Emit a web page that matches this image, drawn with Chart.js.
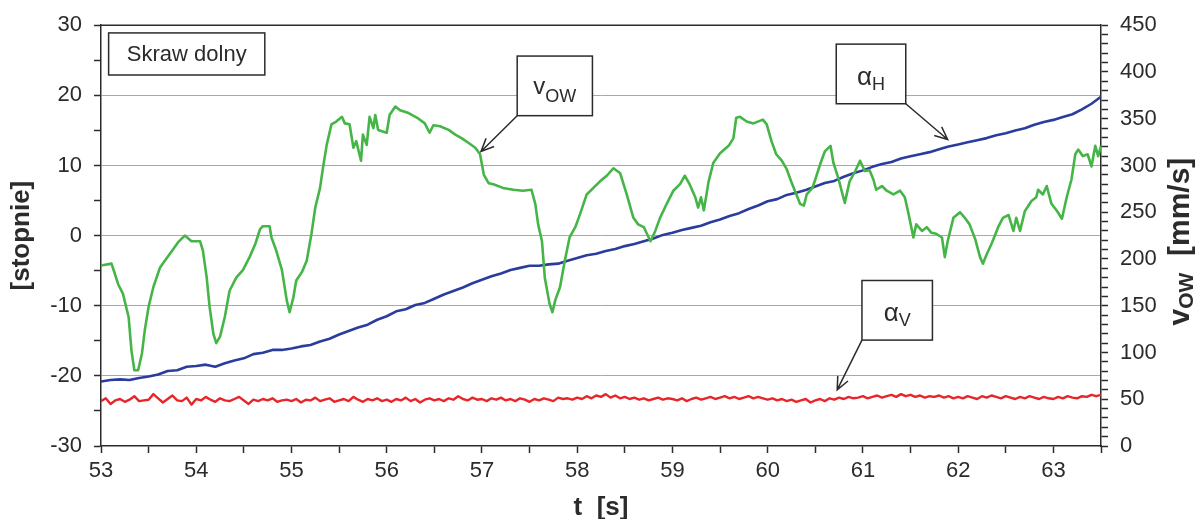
<!DOCTYPE html>
<html>
<head>
<meta charset="utf-8">
<script src="https://cdn.jsdelivr.net/npm/chart.js@4.4.1/dist/chart.umd.min.js"></script>
<style>
  html, body { margin: 0; padding: 0; background: #fff; }
  canvas { display: block; }
</style>
</head>
<body>
<canvas id="chart" width="1195" height="519"></canvas>
<script>
// axis tick labels
const timeTicks = [53, 54, 55, 56, 57, 58, 59, 60, 61, 62, 63];
const angleTicks = [-30, -20, -10, 0, 10, 20, 30];
const speedTicks = [0, 50, 100, 150, 200, 250, 300, 350, 400, 450];

// v_OW [mm/s] (right axis)
const vowTime = [
  53.00, 53.11, 53.13, 53.18, 53.23, 53.29, 53.32, 53.35, 53.39, 53.43, 53.46, 53.50, 53.55, 53.62, 53.67, 53.72,
  53.81, 53.88, 53.95, 54.04, 54.07, 54.11, 54.14, 54.18, 54.21, 54.25, 54.30, 54.35, 54.42, 54.49, 54.56, 54.62,
  54.67, 54.70, 54.77, 54.79, 54.84, 54.90, 54.95, 54.98, 55.02, 55.05, 55.11, 55.16, 55.21, 55.25, 55.30, 55.33,
  55.37, 55.42, 55.47, 55.53, 55.56, 55.61, 55.65, 55.68, 55.73, 55.75, 55.79, 55.82, 55.86, 55.88, 55.91, 56.00,
  56.03, 56.09, 56.14, 56.23, 56.32, 56.40, 56.45, 56.49, 56.56, 56.65, 56.72, 56.79, 56.86, 56.93, 56.98, 57.02,
  57.07, 57.12, 57.22, 57.33, 57.43, 57.52, 57.56, 57.59, 57.63, 57.66, 57.71, 57.74, 57.77, 57.82, 57.87, 57.92,
  57.98, 58.03, 58.10, 58.17, 58.24, 58.31, 58.38, 58.45, 58.52, 58.59, 58.64, 58.70, 58.77, 58.82, 58.87, 58.94,
  59.01, 59.08, 59.13, 59.18, 59.24, 59.27, 59.30, 59.33, 59.38, 59.43, 59.50, 59.59, 59.64, 59.67, 59.71, 59.78,
  59.85, 59.95, 59.99, 60.04, 60.09, 60.15, 60.20, 60.25, 60.29, 60.34, 60.38, 60.41, 60.47, 60.50, 60.55, 60.60,
  60.66, 60.69, 60.74, 60.81, 60.86, 60.92, 60.97, 61.02, 61.07, 61.11, 61.14, 61.20, 61.25, 61.32, 61.39, 61.44,
  61.48, 61.53, 61.56, 61.62, 61.67, 61.72, 61.77, 61.83, 61.86, 61.89, 61.95, 62.02, 62.07, 62.12, 62.18, 62.23,
  62.26, 62.30, 62.35, 62.42, 62.47, 62.53, 62.58, 62.61, 62.65, 62.70, 62.77, 62.82, 62.84, 62.89, 62.93, 62.98,
  63.04, 63.09, 63.14, 63.19, 63.23, 63.26, 63.31, 63.36, 63.40, 63.44, 63.47, 63.50
];
const vowSpeed = [
  193, 195, 189, 173, 163, 138, 102, 81, 81, 99, 124, 149, 170, 191, 198, 205,
  218, 225, 219, 219, 209, 180, 149, 120, 110, 117, 138, 166, 180, 188, 202, 216,
  232, 235, 235, 223, 209, 188, 156, 143, 159, 177, 186, 198, 227, 255, 276, 297,
  322, 344, 347, 352, 345, 344, 319, 326, 305, 333, 322, 352, 340, 354, 338, 335,
  354, 363, 359, 356, 351, 345, 335, 343, 342, 338, 333, 329, 324, 319, 312, 290,
  281, 280, 276, 274, 273, 274, 259, 237, 219, 180, 152, 143, 156, 170, 198, 223,
  234, 248, 269, 276, 283, 289, 297, 292, 269, 244, 237, 234, 219, 230, 244, 259,
  273, 280, 289, 280, 266, 255, 266, 252, 283, 303, 313, 321, 329, 351, 352, 347,
  345, 349, 344, 326, 312, 305, 296, 282, 272, 259, 257, 269, 276, 285, 301, 315,
  321, 303, 287, 260, 283, 294, 305, 294, 295, 285, 274, 278, 273, 269, 273, 266,
  248, 223, 237, 230, 234, 228, 227, 223, 202, 219, 244, 250, 244, 237, 221, 202,
  195, 205, 216, 234, 244, 247, 230, 244, 230, 251, 262, 266, 274, 269, 278, 259,
  251, 243, 266, 285, 312, 317, 310, 312, 299, 321, 310, 321
];

// alpha_H and alpha_V [degrees], sampled every 0.1 s / 0.05 s from 53 s
const alphaHStep = 0.1;
const alphaH = [
  -20.8, -20.6, -20.5, -20.6, -20.3, -20.1, -19.8, -19.3, -19.2, -18.7,
  -18.6, -18.4, -18.7, -18.2, -17.8, -17.5, -16.9, -16.7, -16.3, -16.3,
  -16.1, -15.8, -15.6, -15.1, -14.7, -14.1, -13.6, -13.1, -12.7, -12.0,
  -11.5, -10.8, -10.5, -9.9, -9.6, -9.0, -8.4, -7.9, -7.4, -6.8,
  -6.3, -5.8, -5.4, -4.9, -4.6, -4.3, -4.3, -4.1, -4.0, -3.6,
  -3.2, -2.8, -2.6, -2.2, -1.9, -1.5, -1.2, -0.8, -0.4, 0.1,
  0.4, 0.8, 1.1, 1.4, 1.9, 2.3, 2.8, 3.2, 3.8, 4.3,
  4.9, 5.2, 5.8, 6.1, 6.5, 7.0, 7.5, 7.8, 8.4, 8.9,
  9.3, 9.8, 10.2, 10.5, 11.0, 11.3, 11.6, 11.9, 12.3, 12.7,
  13.0, 13.3, 13.6, 13.9, 14.3, 14.6, 15.0, 15.3, 15.8, 16.2,
  16.5, 16.9, 17.3, 18.0, 18.8, 19.8
];
const alphaVStep = 0.05;
const alphaV = [
  -23.6, -23.2, -24.0, -23.5, -23.3, -23.7, -23.4, -22.9, -23.6, -23.5, -23.4, -22.6, -23.2, -23.8, -23.3, -22.8, -23.5, -23.6, -23.1, -24.1,
  -23.3, -23.5, -23.0, -23.4, -23.7, -23.2, -23.5, -23.6, -23.3, -23.0, -23.5, -24.0, -23.4, -23.6, -23.3, -23.5, -23.2, -23.7, -23.5, -23.4,
  -23.6, -23.3, -23.8, -23.4, -23.5, -23.1, -23.6, -23.4, -23.2, -23.7, -23.5, -23.3, -23.6, -23.0, -23.4, -23.7, -23.3, -23.5, -23.2, -23.6,
  -23.4, -23.7, -23.3, -23.5, -23.1, -23.6, -23.3, -23.8, -23.4, -23.2, -23.5, -23.3, -23.6, -23.2, -23.4, -22.9, -23.3, -23.5, -23.1, -23.4,
  -23.3, -23.6, -23.2, -23.4, -23.1, -23.5, -23.3, -23.6, -23.2, -23.4, -23.7, -23.3, -23.5, -23.2, -23.4, -23.6, -23.1, -23.3, -23.2, -23.4,
  -23.1, -23.3, -22.9, -23.2, -22.8, -23.0, -22.6, -23.1, -22.8, -23.2, -23.0, -23.3, -23.1, -23.4, -23.2, -23.5, -23.3, -23.1, -23.4, -23.2,
  -23.3, -23.5, -23.2, -23.6, -23.3, -23.1, -23.4, -23.2, -23.0, -23.3, -23.1, -22.9, -23.2, -23.0, -23.3, -23.1, -22.9, -23.2, -23.0, -23.2,
  -23.4, -23.2, -23.5, -23.3, -23.6, -23.4, -23.7, -23.5, -23.3, -23.8, -23.5, -23.3, -23.6, -23.2, -23.4, -23.1, -23.3, -23.0, -23.2, -23.1,
  -22.9, -23.2, -23.0, -22.8, -23.1, -22.9, -22.7, -23.0, -22.6, -22.9, -22.7, -23.0, -22.8, -23.1, -22.9, -23.0, -22.8, -23.1, -22.9, -23.2,
  -23.0, -23.2, -22.9, -23.1, -23.3, -22.9, -23.1, -22.8, -23.0, -23.2, -22.9, -23.1, -23.3, -23.0, -23.2, -22.9, -23.1, -23.3, -23.0, -23.2,
  -23.3, -23.0, -23.2, -22.9, -23.1, -23.2, -22.9, -23.0, -22.7, -22.9, -22.7
];

const FONT = "'Liberation Sans', Arial, sans-serif";
const INK = '#2b2b2b';

const toPoints = (xs, ys) => ys.map((y, i) => ({ x: xs[i], y: y }));
const sampled = (start, step, ys) => ys.map((y, i) => ({ x: +(start + i * step).toFixed(3), y: y }));

// labelled boxes with arrows, placed in t / left-axis units
const callouts = [
  { main: 'v', sub: 'OW', box: [57.37, 25.6, 58.16, 17.1], from: 'bl', tip: [56.99, 12.0], rise: 8 },
  { main: 'α', sub: 'H', box: [60.72, 27.3, 61.45, 18.8], from: 'br', tip: [61.89, 13.7], rise: 11 },
  { main: 'α', sub: 'V', box: [60.99, -6.4, 61.73, -14.9], from: 'bl', tip: [60.73, -22.0], rise: 11 },
];

const decorations = {
  id: 'decorations',
  afterDraw(chart) {
    const { ctx, chartArea: a, scales } = chart;
    const sx = scales.x, sy = scales.y;

    // top frame line
    ctx.save();
    ctx.strokeStyle = INK;
    ctx.lineWidth = 1.5;
    ctx.beginPath();
    ctx.moveTo(a.left, a.top);
    ctx.lineTo(a.right, a.top);
    ctx.stroke();

    // "Skraw dolny" box
    const bx0 = sx.getPixelForValue(53.08), bx1 = sx.getPixelForValue(54.72);
    const by0 = sy.getPixelForValue(28.9), by1 = sy.getPixelForValue(22.9);
    ctx.fillStyle = '#fff';
    ctx.fillRect(bx0, by0, bx1 - bx0, by1 - by0);
    ctx.strokeRect(bx0, by0, bx1 - bx0, by1 - by0);
    ctx.fillStyle = INK;
    ctx.font = '22px ' + FONT;
    ctx.textAlign = 'center';
    ctx.textBaseline = 'middle';
    ctx.fillText('Skraw dolny', (bx0 + bx1) / 2, (by0 + by1) / 2 + 1);

    // callouts
    ctx.textAlign = 'left';
    ctx.textBaseline = 'alphabetic';
    callouts.forEach(c => {
      const x0 = sx.getPixelForValue(c.box[0]), x1 = sx.getPixelForValue(c.box[2]);
      const y0 = sy.getPixelForValue(c.box[1]), y1 = sy.getPixelForValue(c.box[3]);
      ctx.fillStyle = '#fff';
      ctx.fillRect(x0, y0, x1 - x0, y1 - y0);
      ctx.strokeStyle = INK;
      ctx.lineWidth = 1.5;
      ctx.strokeRect(x0, y0, x1 - x0, y1 - y0);

      const mainFont = (c.main === 'α' ? '26px ' : '24px ') + FONT;
      const subFont = '18px ' + FONT;
      ctx.font = mainFont;
      const wm = ctx.measureText(c.main).width;
      ctx.font = subFont;
      const ws = ctx.measureText(c.sub).width;
      const cx = (x0 + x1) / 2, cy = (y0 + y1) / 2;
      const start = cx - (wm + ws) / 2;
      ctx.fillStyle = INK;
      ctx.font = mainFont;
      ctx.fillText(c.main, start, cy + c.rise);
      ctx.font = subFont;
      ctx.fillText(c.sub, start + wm, cy + 16);

      // arrow from the box corner to the curve
      const ax = c.from === 'bl' ? x0 : x1, ay = y1;
      const tx = sx.getPixelForValue(c.tip[0]), ty = sy.getPixelForValue(c.tip[1]);
      const ang = Math.atan2(ty - ay, tx - ax);
      ctx.beginPath();
      ctx.moveTo(ax, ay);
      ctx.lineTo(tx, ty);
      const len = 14, spread = 0.42;
      ctx.moveTo(tx - len * Math.cos(ang - spread), ty - len * Math.sin(ang - spread));
      ctx.lineTo(tx, ty);
      ctx.lineTo(tx - len * Math.cos(ang + spread), ty - len * Math.sin(ang + spread));
      ctx.stroke();
    });

    // axis titles
    const cyMid = (a.top + a.bottom) / 2;
    const bold = size => 'bold ' + size + 'px ' + FONT;
    ctx.fillStyle = INK;
    ctx.textBaseline = 'middle';

    ctx.save();
    ctx.translate(22, cyMid);
    ctx.rotate(-Math.PI / 2);
    ctx.textAlign = 'center';
    ctx.font = bold(26);
    ctx.fillText('[stopnie]', 0, 0);
    ctx.restore();

    ctx.textAlign = 'center';
    ctx.font = bold(26);
    ctx.fillText('t  [s]', (a.left + a.right) / 2, 508);

    ctx.save();
    ctx.translate(1181, cyMid + 6);
    ctx.rotate(-Math.PI / 2);
    ctx.textAlign = 'left';
    const parts = [
      { t: 'v', f: bold(30), dy: 0 },
      { t: 'OW', f: bold(21), dy: 6 },
      { t: '  [mm/s]', f: bold(30), dy: 0 },
    ];
    let total = 0;
    parts.forEach(p => { ctx.font = p.f; p.w = ctx.measureText(p.t).width; total += p.w; });
    let px = -total / 2;
    parts.forEach(p => { ctx.font = p.f; ctx.fillText(p.t, px, p.dy); px += p.w; });
    ctx.restore();

    ctx.restore();
  }
};

const tickFont = { family: FONT, size: 22 };

new Chart(document.getElementById('chart').getContext('2d'), {
  type: 'line',
  data: {
    datasets: [
      {
        label: 'vOW',
        data: toPoints(vowTime, vowSpeed),
        yAxisID: 'y2',
        borderColor: '#45b548',
        borderWidth: 2.6,
      },
      {
        label: 'alphaH',
        data: sampled(53, alphaHStep, alphaH),
        yAxisID: 'y',
        borderColor: '#2a3c9c',
        borderWidth: 2.6,
      },
      {
        label: 'alphaV',
        data: sampled(53, alphaVStep, alphaV),
        yAxisID: 'y',
        borderColor: '#e8262a',
        borderWidth: 2.4,
      },
    ]
  },
  options: {
    responsive: false,
    animation: false,
    devicePixelRatio: 1,
    parsing: false,
    elements: {
      point: { radius: 0 },
      line: { tension: 0, borderJoinStyle: 'round' }
    },
    layout: { padding: { top: 23, left: 0, right: 0, bottom: 0 } },
    plugins: {
      legend: { display: false },
      tooltip: { enabled: false },
      title: { display: false }
    },
    scales: {
      x: {
        type: 'linear',
        min: 53,
        max: 63.5,
        afterFit: s => { s.height = 73; },
        border: { display: true, color: INK, width: 1.5 },
        grid: { drawOnChartArea: false, drawTicks: true, tickLength: 7, tickColor: INK, tickWidth: 1.5 },
        ticks: {
          stepSize: 0.5,
          autoSkip: false,
          maxRotation: 0,
          padding: 5,
          color: INK,
          font: tickFont,
          callback: v => timeTicks.includes(v) ? String(v) : ''
        }
      },
      y: {
        type: 'linear',
        position: 'left',
        min: -30,
        max: 30,
        afterFit: s => { s.width = 101; },
        border: { display: true, color: INK, width: 1.5 },
        grid: {
          drawTicks: true,
          tickLength: 7,
          tickWidth: 1.5,
          tickColor: INK,
          lineWidth: 1,
          color: c => (c.tick && c.tick.value % 10 === 0 && Math.abs(c.tick.value) < 30) ? '#a8a8a8' : 'rgba(0,0,0,0)'
        },
        ticks: {
          stepSize: 5,
          autoSkip: false,
          padding: 12,
          color: INK,
          font: tickFont,
          callback: v => angleTicks.includes(v) ? String(v) : ''
        }
      },
      y2: {
        type: 'linear',
        position: 'right',
        min: 0,
        max: 450,
        afterFit: s => { s.width = 94; },
        border: { display: true, color: INK, width: 1.5 },
        grid: { drawOnChartArea: false, drawTicks: true, tickLength: 7, tickWidth: 1.5, tickColor: INK },
        ticks: {
          stepSize: 10,
          autoSkip: false,
          padding: 12,
          color: INK,
          font: tickFont,
          callback: v => speedTicks.includes(v) ? String(v) : ''
        }
      }
    }
  },
  plugins: [decorations]
});
</script>
</body>
</html>
